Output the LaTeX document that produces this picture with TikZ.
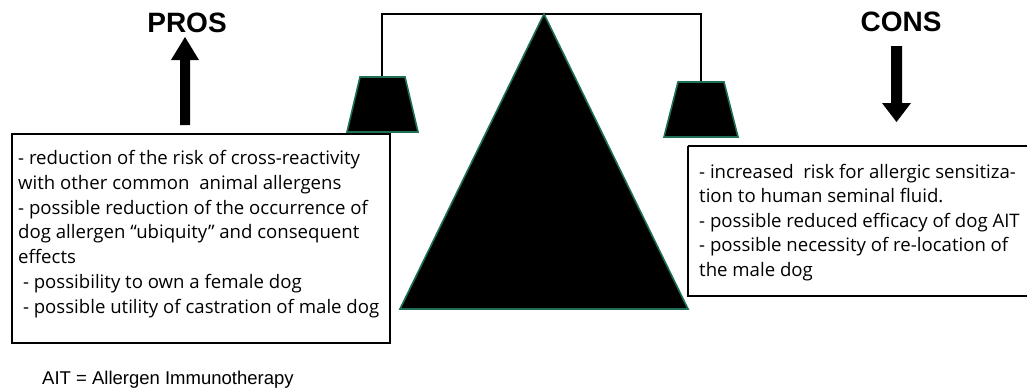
\documentclass[tikz,border=0pt]{standalone}
\usepackage{fontspec}
\setmainfont{Open Sans}
\newfontfamily\arialf{Liberation Sans}
\definecolor{edgegreen}{HTML}{1E6E58}
\begin{document}
\begin{tikzpicture}[x=1pt,y=-1pt,
  panshape/.style={fill=black,draw=edgegreen,line width=1.6pt,line join=miter},
  beam/.style={draw=black,line width=1.4pt},
  boxstyle/.style={draw=black,line width=1.4pt,fill=white},
  bodytext/.style={font=\fontsize{18.6}{24.7}\selectfont,align=left,inner sep=0pt,anchor=base west},
  headtext/.style={font=\arialf\bfseries\fontsize{28}{30}\selectfont,inner sep=0pt},
  bigarrow/.style={fill=black}]
\useasboundingbox (0,0) rectangle (1027,389);
% beam
\coordinate (bl) at (382,77);
\coordinate (br) at (701,82);
\draw[beam] (bl) |- (544,14) -| (br);
% fulcrum triangle
\path[panshape] (544,14) -- (688,309) -- (400,309) -- cycle;
% pans
\path[panshape] (360,77) -- (405,77) -- (418,132) -- (347,132) -- cycle;
\path[panshape] (678,82) -- (724,82) -- (738,137) -- (664,137) -- cycle;
% boxes
\draw[boxstyle] (12,134) rectangle (390,343);
\draw[boxstyle] (688,146) -- (1030,146) (688,146) -- (688,296) -- (1030,296);
% texts (anchored at the baseline of the last line)
\node[bodytext] (pros) at (18,313) {- reduction of the risk of cross-reactivity\\with other common\ \ animal allergens\\- possible reduction of the occurrence of\\dog allergen “ubiquity” and consequent\\effects\\\ - possibility to own a female dog\\\ - possible utility of castration of male dog};
\node[bodytext,font=\fontsize{18.6}{24.5}\selectfont] (cons) at (699,276) {- increased\ \ risk for allergic sensitiza-\\tion to human seminal fluid.\\- possible reduced efficacy of dog AIT\\- possible necessity of re-location of\\the male dog};
% headings
\node[headtext] (prost) at (187,23) {PROS};
\node[headtext] (const) at (901,22) {CONS};
% arrows
\path[bigarrow] (180,125) -- (180,60) -- (171,60) -- (185,37) -- (199,60) -- (190,60) -- (190,125) -- cycle;
\path[bigarrow] (891,46) -- (891,103) -- (882,103) -- (896.5,122) -- (911,103) -- (902,103) -- (902,46) -- cycle;
% footnote
\node[font=\arialf\fontsize{18.5}{20}\selectfont,anchor=base west,inner sep=0pt] (foot) at (42,384) {AIT = Allergen Immunotherapy};
\end{tikzpicture}
\end{document}
